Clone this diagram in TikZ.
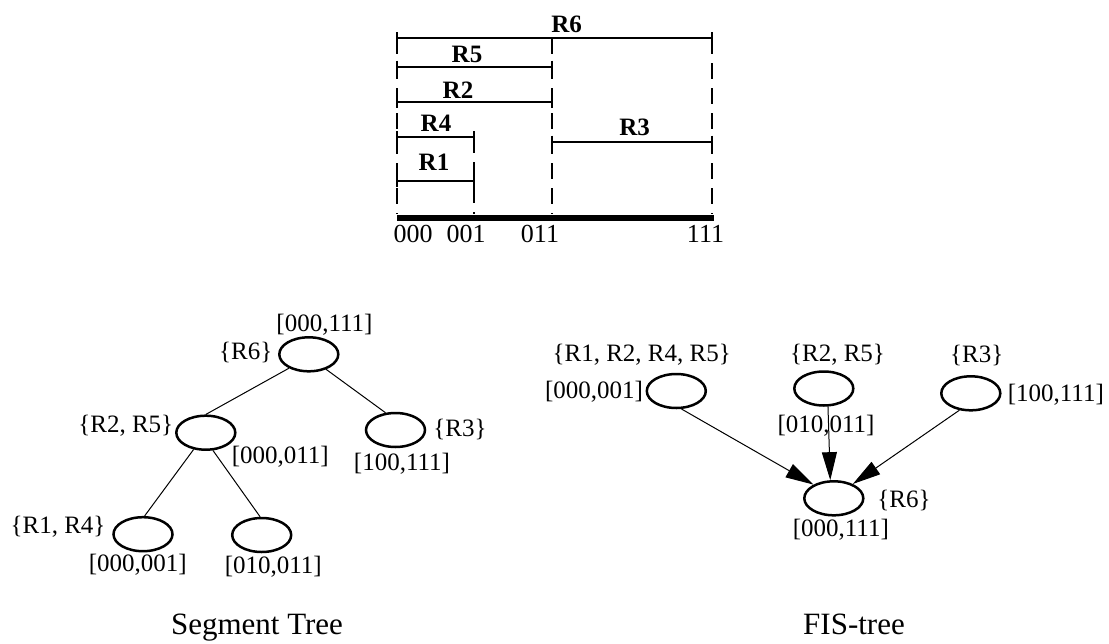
\documentclass[tikz,border=0pt]{standalone}
\usepackage{fontspec}
\setmainfont{Liberation Serif}
\usetikzlibrary{shapes.geometric,arrows.meta}
\begin{document}
\begin{tikzpicture}[x=1pt,y=-1pt,
 lab/.style={inner sep=0pt,font=\fontsize{25}{30}\selectfont},
 blab/.style={inner sep=0pt,font=\fontsize{25}{30}\selectfont\bfseries},
 axlab/.style={inner sep=0pt,font=\fontsize{26}{30}\selectfont},
 captext/.style={inner sep=0pt,anchor=base,font=\fontsize{31}{36}\selectfont},
 tnode/.style={draw,ellipse,line width=2.5pt,minimum width=59pt,minimum height=34pt,inner sep=0pt},
 seg/.style={line width=2pt},
 dsh/.style={line width=2pt,dash pattern=on 16pt off 9pt},
 tedge/.style={line width=1pt},
 fedge/.style={line width=1pt,-{Triangle[length=28pt,width=15pt]}},
]
\useasboundingbox (0,0) rectangle (1109,643);

% ---------------- interval diagram ----------------
\coordinate (x0t) at (397,38);  \coordinate (x0b) at (397,214);
\coordinate (x1t) at (474,137); \coordinate (x1b) at (474,214);
\coordinate (x3t) at (552,38);  \coordinate (x3b) at (552,214);
\coordinate (x7t) at (712,38);  \coordinate (x7b) at (712,214);
\draw[dsh] (x0t) -- (x0b);
\draw[dsh] (x1t) -- (x1b);
\draw[dsh] (x3t) -- (x3b);
\draw[dsh] (x7t) -- (x7b);

\newcommand\myintv[3]{%
  \draw[seg] (#1,#3) -- (#2,#3);
  \draw[seg] (#1,#3-6) -- (#1,#3+6);
  \draw[seg] (#2,#3-6) -- (#2,#3+6);}
\myintv{397}{712}{38.3}
\myintv{397}{552}{66.7}
\myintv{397}{552}{101.7}
\myintv{397}{474}{137.3}
\myintv{552}{712}{141.7}
\myintv{397}{474}{181}

\coordinate (axL) at (397,217.5);
\coordinate (axR) at (714,217.5);
\draw[line width=6pt] (axL) -- (axR);

\node[blab] (lR6) at (566.7,24) {R6};
\node[blab] (lR5) at (467,54) {R5};
\node[blab] (lR2) at (458,90) {R2};
\node[blab] (lR4) at (436,123.3) {R4};
\node[blab] (lR3) at (634.7,127.5) {R3};
\node[blab] (lR1) at (434,162.5) {R1};

\node[axlab] (a000) at (413,234) {000};
\node[axlab] (a001) at (466,234) {001};
\node[axlab] (a011) at (540,234) {011};
\node[axlab] (a111) at (705.5,234) {111};

% ---------------- segment tree ----------------
\node[tnode] (sroot) at (308.8,354.3) {};
\node[tnode] (sL) at (205.8,432.7) {};
\node[tnode] (sR) at (395.5,430) {};
\node[tnode] (sLL) at (143,534.2) {};
\node[tnode] (sLR) at (261.7,535) {};

\draw[tedge] (sroot.215) -- (sL.north);
\draw[tedge] (sroot.-41) -- (sR.120);
\draw[tedge] (sL.234) -- (sLL.85);
\draw[tedge] (sL.-68) -- (sLR.95);

\node[lab] (t1) at (324.5,325) {[000,111]};
\node[lab] (t2) at (245.8,352.7) {\{R6\}};
\node[lab] (t3) at (125.8,426) {\{R2, R5\}};
\node[lab] (t4) at (280.3,456.7) {[000,011]};
\node[lab] (t5) at (460,429.3) {\{R3\}};
\node[lab] (t6) at (402,463.3) {[100,111]};
\node[lab] (t7) at (58,526.7) {\{R1, R4\}};
\node[lab] (t8) at (137.8,565) {[000,001]};
\node[lab] (t9) at (273.3,566.7) {[010,011]};

\node[captext] (capS) at (257,634) {Segment Tree};

% ---------------- FIS-tree ----------------
\node[tnode] (fA) at (676.3,391) {};
\node[tnode] (fB) at (823.8,388.5) {};
\node[tnode] (fC) at (970.8,393.3) {};
\node[tnode] (fD) at (833.8,498.3) {};

\draw[fedge] (fA.-74) -- (fD.146);
\draw[fedge] (fB.-77) -- (fD.101);
\draw[fedge] (fC.236) -- (fD.37);

\node[lab] (u1) at (641.7,355) {\{R1, R2, R4, R5\}};
\node[lab] (u2) at (594,391.7) {[000,001]};
\node[lab] (u3) at (837.5,355) {\{R2, R5\}};
\node[lab] (u4) at (826,426) {[010,011]};
\node[lab] (u5) at (976.7,355) {\{R3\}};
\node[lab] (u6) at (1055.8,395) {[100,111]};
\node[lab] (u7) at (904,500) {\{R6\}};
\node[lab] (u8) at (840.8,530) {[000,111]};

\node[captext] (capF) at (854,634) {FIS-tree};
\end{tikzpicture}
\end{document}
